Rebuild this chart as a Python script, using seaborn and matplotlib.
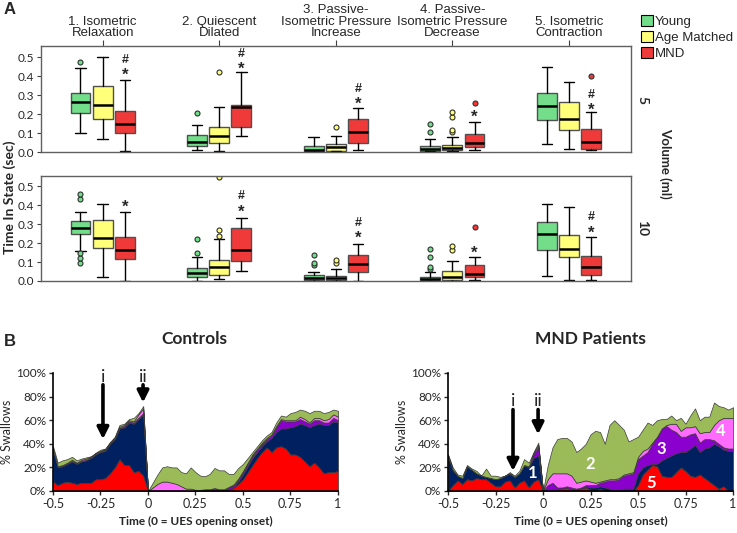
import numpy as np
import matplotlib
matplotlib.use("Agg")
import matplotlib.pyplot as plt
import seaborn as sns
from matplotlib.patches import Patch

sns.set_style("white")
plt.rcParams['font.family'] = ['Liberation Sans', 'DejaVu Sans']
fontB = ['Lato', 'DejaVu Sans']

# ---------------- Panel A data: box stats [whislo, q1, med, q3, whishi] ----------------
states = ["1. Isometric\nRelaxation", "2. Quiescent\nDilated",
          "3. Passive-\nIsometric Pressure\nIncrease",
          "4. Passive-\nIsometric Pressure\nDecrease", "5. Isometric\nContraction"]
cohorts = ["Young", "Age Matched", "MND"]

young_5 = [[0.10, 0.205, 0.263, 0.31, 0.44], [0.01, 0.033, 0.054, 0.09, 0.144],
           [0.0, 0.003, 0.009, 0.033, 0.079], [0.003, 0.006, 0.017, 0.03, 0.068],
           [0.044, 0.167, 0.244, 0.31, 0.446]]
young_5_fliers = [[0.474], [0.205], [], [0.105, 0.147], []]
age_5 = [[0.068, 0.175, 0.249, 0.346, 0.5], [0.003, 0.05, 0.084, 0.13, 0.235],
         [0.003, 0.007, 0.026, 0.042, 0.084], [0.003, 0.01, 0.02, 0.038, 0.079],
         [0.016, 0.114, 0.174, 0.261, 0.368]]
age_5_fliers = [[], [0.42], [0.133], [0.105, 0.117, 0.182, 0.212], []]
mnd_5 = [[0.004, 0.102, 0.149, 0.216, 0.379], [0.083, 0.132, 0.239, 0.249, 0.42],
         [0.01, 0.05, 0.105, 0.172, 0.23], [0.01, 0.026, 0.045, 0.093, 0.156],
         [0.009, 0.014, 0.053, 0.119, 0.21]]
mnd_5_fliers = [[], [], [], [0.26], [0.40]]

young_10 = [[0.159, 0.249, 0.279, 0.314, 0.362], [0.0, 0.02, 0.041, 0.069, 0.124],
            [0.0, 0.003, 0.014, 0.03, 0.049], [0.0, 0.003, 0.01, 0.023, 0.048],
            [0.028, 0.164, 0.246, 0.311, 0.408]]
young_10_fliers = [[0.094, 0.12, 0.15, 0.43, 0.458], [0.15, 0.223], [0.085, 0.097, 0.136],
                   [0.065, 0.076, 0.129, 0.17], []]
age_10 = [[0.02, 0.175, 0.226, 0.323, 0.408], [0.009, 0.03, 0.076, 0.111, 0.219],
          [0.0, 0.004, 0.014, 0.028, 0.065], [0.0, 0.005, 0.023, 0.055, 0.106],
          [0.004, 0.129, 0.17, 0.24, 0.392]]
age_10_fliers = [[], [0.238, 0.267, 0.546], [0.094, 0.111], [0.164, 0.182], []]
mnd_10 = [[0.0, 0.118, 0.164, 0.233, 0.362], [0.053, 0.106, 0.161, 0.277, 0.33],
          [0.0, 0.049, 0.09, 0.136, 0.196], [0.005, 0.02, 0.039, 0.083, 0.129],
          [0.004, 0.034, 0.074, 0.131, 0.23]]
mnd_10_fliers = [[], [], [], [0.286], []]

# significance marks above MND boxes (None = no mark)
star_5 = [0.425, 0.456, 0.273, 0.207, 0.242]
hash_5 = [0.482, 0.514, 0.331, None, 0.302]
star_10 = [0.412, 0.385, 0.249, 0.168, 0.276]
hash_10 = [None, 0.447, 0.306, None, 0.336]

# ---------------- Panel B data: % swallows per state, t = -0.5 .. 1 step 0.025 ----------------
t = np.round(np.arange(-0.5, 1.0001, 0.025), 3)

ctrl_s5 = [8, 5, 7, 8, 7, 6, 7, 7, 7, 10, 10, 11, 15, 20, 27, 22, 22, 16, 17, 13, 0,
           0, 0, 0, 0, 0, 0, 0, 0, 0, 0, 0, 0, 0, 0, 0, 0, 1, 3, 6, 10, 16, 22, 28, 33, 37,
           33, 37, 38, 36, 31, 31, 29, 25, 21, 24, 20, 15, 16, 16, 17]
ctrl_s1 = [27, 15, 14, 15, 18, 17, 18, 19, 21, 21, 23, 23, 25, 24, 26, 32, 36, 41, 44, 52, 0,
           0, 0, 0, 0, 0, 0, 0, 0, 0, 0, 0, 0, 0, 0, 0, 0, 0, 0, 2, 4, 5, 6, 5, 5, 5,
           12, 13, 15, 17, 23, 24, 28, 31, 33, 32, 37, 41, 40, 43, 41]
ctrl_s3 = [0, 0.5, 0.5, 0.5, 0.5, 0.5, 0.5, 0.5, 0.5, 0.5, 0.5, 1, 0.5, 0.5, 0.5, 1, 1, 1, 1, 1, 0,
           0, 0, 0, 0, 0, 0, 0, 0, 0, 0, 0, 1, 1, 2, 1, 1, 2, 2, 2, 2, 2, 2, 2, 2, 2,
           2, 4, 7, 6, 5, 4, 4, 3, 3, 4, 3, 2, 2, 3, 2]
ctrl_s4 = [0.5, 0.5, 0.5, 0.5, 1, 0.5, 1, 1, 0.5, 0.5, 0.5, 0.5, 0.5, 0.5, 1, 1, 1, 1, 3, 4, 0,
           3, 6, 8, 8, 7, 6, 4, 2, 2, 1, 1, 0.5, 0.5, 0.5, 0.5, 0.5, 0.5, 0.5, 0.5, 1, 1, 1, 1, 1, 1,
           1, 1, 1, 1, 1, 1, 2, 2, 1, 2, 2, 2, 3, 3, 3]
ctrl_s2 = [2.5, 3, 4, 3, 2.5, 2, 1, 1, 0.5, 0.5, 1, 0.5, 0.5, 1, 1.5, 1, 1, 3, 1, 2, 0,
           4, 8, 12, 13, 13, 14, 12, 13, 18, 15, 12, 11, 13, 17, 16, 16, 11, 9, 9, 6, 4, 2, 2, 2, 2,
           2, 3, 3, 3, 6, 7, 6, 7, 8, 6, 6, 6, 6, 4, 5]

mnd_s5 = [0, 5, 9, 6, 10, 9, 11, 10, 10, 7, 4, 4, 8, 9, 3, 7, 9, 3, 8, 10, 0,
          0, 1, 1, 2, 3, 1, 1, 2, 3, 1, 0, 2, 0, 0, 0, 0, 0, 0, 0, 5, 14, 18, 22, 21, 13,
          12, 12, 16, 20, 17, 13, 12, 14, 11, 8, 5, 2, 4, 0, 0]
mnd_s1 = [30, 13, 4, 5, 11, 9, 4, 3, 2, 4, 6, 7, 5, 6, 9, 8, 13, 17, 20, 20, 0,
          0, 0, 0, 0, 0, 0, 0, 0, 1, 2, 3, 2, 3, 2, 1, 1, 2, 2, 2, 10, 6, 4, 1, 2, 13,
          16, 18, 16, 13, 16, 23, 27, 19, 25, 29, 35, 36, 31, 34, 34]
mnd_s3 = [0, 0, 0, 0, 0, 0, 0, 0, 0, 0, 0, 0, 0, 0, 0, 0, 0, 1, 3, 7, 0,
          5, 6, 2, 1, 1, 2, 1, 1, 1, 2, 2, 3, 5, 7, 8, 9, 11, 12, 13, 12, 10, 11, 17, 23, 27,
          27, 22, 18, 13, 13, 12, 10, 8, 8, 7, 3, 2, 2, 2, 2]
mnd_s4 = [0, 0, 0, 0, 0, 0, 0, 0, 0, 0, 0, 0, 0, 0, 0, 0, 0, 0, 1, 2, 0,
          5, 8, 12, 12, 11, 10, 5, 5, 4, 3, 2, 1, 1, 1, 1, 1, 1, 1, 1, 2, 4, 3, 1, 0, 0,
          1, 5, 7, 5, 8, 6, 6, 8, 6, 6, 13, 20, 25, 26, 26]
mnd_s2 = [1, 2, 1, 2, 1, 1, 2, 0, 7, 2, 3, 1, 0, 1, 1, 2, 5, 3, 1, 2, 0,
          12, 22, 29, 30, 30, 29, 26, 28, 31, 40, 44, 42, 31, 46, 50, 45, 38, 27, 28, 17, 18, 22, 15, 14, 8,
          5, 7, 3, 11, 3, 10, 15, 11, 13, 13, 19, 12, 9, 7, 9]

# ---------------- styles ----------------
box_colors = ["#72DE8A", "#FFFF7A", "#F03A3A"]
area_colors = ["#FF0000", "#002060", "#8A00CC", "#FF6BFF", "#9BBB59"]
offsets = [-0.19, 0.0, 0.19]
pos = np.arange(1, 6)

fig = plt.figure(figsize=(7.37, 5.33), dpi=100)
axA1 = fig.add_axes([0.0556, 0.7148, 0.8005, 0.1989])
axA2 = fig.add_axes([0.0556, 0.4728, 0.8005, 0.197])


def make_stats(rows, fliers):
    return [dict(whislo=r[0], q1=r[1], med=r[2], q3=r[3], whishi=r[4], fliers=f)
            for r, f in zip(rows, fliers)]


def draw_boxes(ax, groups, stars, hashes, ymax):
    for (rows, fl), off, c in zip(groups, offsets, box_colors):
        ax.bxp(make_stats(rows, fl), positions=pos + off, widths=0.17, capwidths=0.09,
               patch_artist=True,
               boxprops=dict(facecolor=c, edgecolor="#505050", linewidth=1),
               medianprops=dict(color="black", linewidth=1.8),
               whiskerprops=dict(color="black", linewidth=1),
               capprops=dict(color="black", linewidth=1),
               flierprops=dict(marker="o", markerfacecolor=c, markeredgecolor="#303030",
                               markersize=3.6, markeredgewidth=0.8))
    for i in range(5):
        if stars[i] is not None:
            ax.text(pos[i] + offsets[2], stars[i] - 0.022, "*", ha="center", va="center",
                    fontsize=12, fontweight="bold")
        if hashes[i] is not None:
            ax.text(pos[i] + offsets[2], hashes[i], "#", ha="center", va="center",
                    fontsize=9, fontweight="bold")
    ax.set_xlim(0.471, 5.532)
    ax.set_ylim(0, ymax)
    ax.set_yticks([0, 0.1, 0.2, 0.3, 0.4, 0.5])
    ax.set_yticklabels(["0.0", "0.1", "0.2", "0.3", "0.4", "0.5"], family=fontB, fontsize=8.5)
    ax.tick_params(axis="y", left=True, length=3, width=0.8, pad=2, color="#404040")
    for s in ax.spines.values():
        s.set_color("#606060")
        s.set_linewidth(1)


draw_boxes(axA1, [(young_5, young_5_fliers), (age_5, age_5_fliers), (mnd_5, mnd_5_fliers)],
           star_5, hash_5, 0.558)
draw_boxes(axA2, [(young_10, young_10_fliers), (age_10, age_10_fliers), (mnd_10, mnd_10_fliers)],
           star_10, hash_10, 0.553)

axA1.xaxis.tick_top()
axA1.set_xticks(pos)
axA1.set_xticklabels(states, fontsize=9.5, linespacing=0.95)
axA1.tick_params(axis="x", top=True, length=4, width=0.8, pad=1, color="#404040")
axA2.set_xticks([])

fig.text(642 / 737, 1 - 100 / 533, "5", rotation=-90, ha="center", va="center", fontsize=10,
         family=fontB, fontweight="bold")
fig.text(642 / 737, 1 - 228 / 533, "10", rotation=-90, ha="center", va="center", fontsize=10,
         family=fontB, fontweight="bold")
fig.text(665 / 737, 1 - 163 / 533, "Volume (ml)", rotation=-90, ha="center", va="center",
         fontsize=9.5, family=fontB, fontweight="bold")
fig.text(10 / 737, 1 - 197 / 533, "Time In State (sec)", rotation=90, ha="center", va="center",
         fontsize=10, family=fontB, fontweight="bold")
fig.text(4 / 737, 1 - 10 / 533, "A", fontsize=12, fontweight="bold", va="center")

handles = [Patch(facecolor=c, edgecolor="black", linewidth=0.8) for c in box_colors]
fig.legend(handles, cohorts, loc="upper left", bbox_to_anchor=(641 / 737, 1 - 15 / 533),
           frameon=False, fontsize=9.5, handlelength=0.9, handleheight=0.9,
           handletextpad=0.15, labelspacing=0.22, borderaxespad=0, borderpad=0)

# ---------------- Panel B ----------------
axB1 = fig.add_axes([0.0719, 0.0788, 0.3867, 0.2214])
axB2 = fig.add_axes([0.6079, 0.0788, 0.3867, 0.2214])

for ax, layers, title, tx in [(axB1, [ctrl_s5, ctrl_s1, ctrl_s3, ctrl_s4, ctrl_s2], "Controls", 194),
                              (axB2, [mnd_s5, mnd_s1, mnd_s3, mnd_s4, mnd_s2], "MND Patients", 590)]:
    ax.stackplot(t, *layers, colors=area_colors, edgecolor="#3a3a3a", linewidth=0.5)
    ax.set_xlim(-0.5, 1)
    ax.set_ylim(0, 100)
    ax.set_xticks([-0.5, -0.25, 0, 0.25, 0.5, 0.75, 1])
    ax.set_xticklabels(["-0.5", "-0.25", "0", "0.25", "0.5", "0.75", "1"], family=fontB, fontsize=9)
    ax.set_yticks([0, 20, 40, 60, 80, 100])
    ax.set_yticklabels([f"{v}%" for v in [0, 20, 40, 60, 80, 100]], family=fontB, fontsize=8.5)
    ax.tick_params(axis="both", left=True, bottom=True, length=3, width=1, pad=2)
    sns.despine(ax=ax)
    for s in ["left", "bottom"]:
        ax.spines[s].set_color("black")
        ax.spines[s].set_linewidth(1.2)
    ax.set_ylabel("% Swallows", family=fontB, fontsize=9, labelpad=2)
    ax.set_xlabel("Time (0 = UES opening onset)", family=fontB, fontsize=8.5, fontweight="bold",
                  labelpad=4)
    fig.text(tx / 737, 1 - 339 / 533, title, family=fontB, fontsize=12.5, fontweight="bold",
             ha="center", va="center")

arrow = dict(arrowstyle="-|>", lw=2.6, color="black", mutation_scale=17, shrinkA=0, shrinkB=0)
for ax, xs, texty, tails, tips in [(axB1, [-0.237, -0.026], 97, [90, 90], [44, 75]),
                                   (axB2, [-0.158, -0.026], 76, [69, 69], [17, 48])]:
    for x, lab, tail, tip in zip(xs, ["i", "ii"], tails, tips):
        ax.annotate("", xy=(x, tip), xytext=(x, tail), arrowprops=arrow, annotation_clip=False)
        ax.text(x, texty, lab, family=fontB, fontsize=13, ha="center", va="center", clip_on=False)

for lab, x, y in [("1", -0.053, 15), ("2", 0.249, 23), ("3", 0.623, 36), ("4", 0.937, 51), ("5", 0.57, 7)]:
    axB2.text(x, y, lab, family=fontB, color="white", fontsize=12, fontweight="bold",
              ha="center", va="center")

fig.text(4 / 737, 1 - 342 / 533, "B", fontsize=12, fontweight="bold", va="center")

fig.savefig("out.png", dpi=100)
